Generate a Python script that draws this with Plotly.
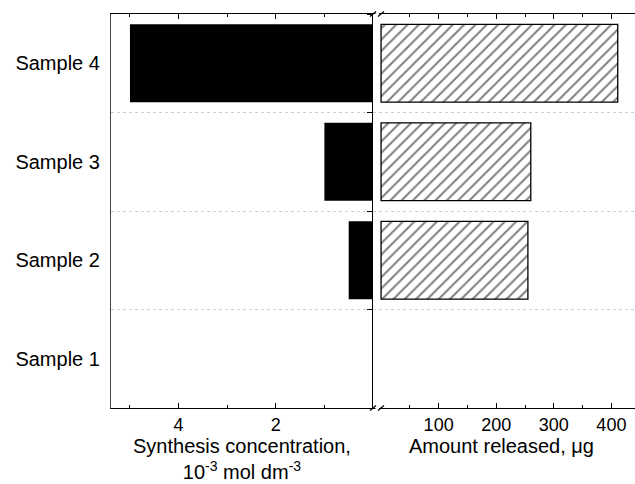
import plotly.graph_objects as go

# -------------------------------------------------------------------- Dados
amostras = ['Sample 1', 'Sample 2', 'Sample 3', 'Sample 4']
conc_sintese = [0, 0.5, 1.0, 5.0]          # 10^-3 mol dm^-3
qtd_liberada = [0, 255, 260, 411]          # µg

ticks_conc = [2, 4]
minor_conc = [1, 3, 5]
ticks_qtd = [100, 200, 300, 400]
minor_qtd = [50, 150, 250, 350]

FONTE = 'Liberation Sans, Arial, sans-serif'
W, H = 635, 484
# limites do painel em px
X_ESQ, X_MEIO, X_DIR = 111, 373, 635
Y_TOPO, Y_BASE = 14, 408

fig = go.Figure()

# Barras pretas (painel esquerdo, eixo invertido)
fig.add_trace(go.Bar(
    y=amostras, x=conc_sintese, orientation='h',
    marker=dict(color='black', line=dict(width=0)),
    xaxis='x', yaxis='y', showlegend=False,
))

# Barras hachuradas (painel direito) - sem contorno onde o valor é zero
fig.add_trace(go.Bar(
    y=amostras, x=qtd_liberada, orientation='h',
    marker=dict(color='white',
                line=dict(color='black', width=[0 if v == 0 else 1.3 for v in qtd_liberada]),
                pattern=dict(shape='/', fgcolor='black', bgcolor='white',
                             size=8, solidity=0.25)),
    xaxis='x2', yaxis='y2', showlegend=False,
))

eixo_x_comum = dict(
    showline=True, linecolor='black', linewidth=1.2,
    mirror='allticks', ticks='inside', ticklen=5, tickcolor='black',
    showgrid=False, zeroline=False, tickmode='array',
    tickfont=dict(size=18, color='black', family=FONTE),
)

eixo_y_comum = dict(
    type='category', categoryorder='array', categoryarray=amostras,
    range=[-0.5, 3.5], tickson='boundaries',
    showgrid=True, gridcolor='#cfcfcf', griddash='dot', gridwidth=1,
    zeroline=False, domain=[0, 1],
)

d_meio = X_MEIO / W
fig.update_layout(
    width=W, height=H,
    margin=dict(l=0, r=0, t=Y_TOPO, b=H - Y_BASE, pad=0),
    paper_bgcolor='white', plot_bgcolor='white',
    font=dict(family=FONTE, color='black'),
    bargap=0.21,
    xaxis=dict(
        eixo_x_comum,
        domain=[X_ESQ / W, d_meio], anchor='y',
        range=[5.39, 0], tickvals=ticks_conc,
        minor=dict(tickvals=minor_conc, ticks='inside', ticklen=3, tickcolor='black'),
    ),
    xaxis2=dict(
        eixo_x_comum,
        domain=[d_meio, 1.0], anchor='y2',
        range=[-14, 441], tickvals=ticks_qtd,
        minor=dict(tickvals=minor_qtd, ticks='inside', ticklen=3, tickcolor='black'),
    ),
    yaxis=dict(
        eixo_y_comum, anchor='x',
        showline=True, linecolor='#444444', linewidth=1.2, ticks='',
        tickfont=dict(size=20, color='black', family=FONTE),
        ticklabelstandoff=6, automargin=False,
    ),
    yaxis2=dict(
        eixo_y_comum, anchor='x2', side='left', matches='y',
        showline=True, linecolor='black', linewidth=1.2,
        ticks='outside', ticklen=5, tickcolor='black', tickwidth=1.2,
        showticklabels=False, automargin=False,
    ),
    yaxis3=dict(
        anchor='x2', overlaying='y2', side='left', range=[-0.5, 3.5],
        tickmode='array', tickvals=[0.5, 1.5, 2.5],
        ticks='inside', ticklen=4, tickcolor='black', tickwidth=1.2,
        showticklabels=False, showgrid=False, showline=False, zeroline=False,
        automargin=False,
    ),
)

# Títulos dos eixos x (como anotações para posicionar igual à figura)
fig.add_annotation(
    text='Synthesis concentration,<br>10<sup>-3</sup> mol dm<sup>-3</sup>',
    xref='x domain', yref='y domain', x=0.5, y=-(433 - Y_BASE) / (Y_BASE - Y_TOPO),
    xanchor='center', yanchor='top', showarrow=False,
    font=dict(size=20, color='black', family=FONTE),
)
fig.add_annotation(
    text='Amount released, μg',
    xref='x2 domain', yref='y2 domain', x=0.49, y=-(433 - Y_BASE) / (Y_BASE - Y_TOPO),
    xanchor='center', yanchor='top', showarrow=False,
    font=dict(size=20, color='black', family=FONTE),
)

# Marcas de quebra do eixo (//) em cima e embaixo - coordenadas "paper" da área de plotagem
def _px_paper(px_x, px_y):
    return px_x / W, (Y_BASE - px_y) / (Y_BASE - Y_TOPO)

for y_px in (Y_TOPO, Y_BASE):
    # apaga o trecho da linha entre as barras
    x0, y0 = _px_paper(375.5, y_px)
    x1, _ = _px_paper(379, y_px)
    fig.add_shape(type='line', xref='paper', yref='paper',
                  x0=x0, x1=x1, y0=y0, y1=y0,
                  line=dict(color='white', width=3))
    for xc in (373, 381):
        a0, b0 = _px_paper(xc - 3, y_px + 2.5)
        a1, b1 = _px_paper(xc + 3, y_px - 2.5)
        fig.add_shape(type='line', xref='paper', yref='paper',
                      x0=a0, y0=b0, x1=a1, y1=b1,
                      line=dict(color='black', width=1.2))

fig.write_html('out.html', config={'displayModeBar': False},
               post_script="document.body.style.margin='0';")
